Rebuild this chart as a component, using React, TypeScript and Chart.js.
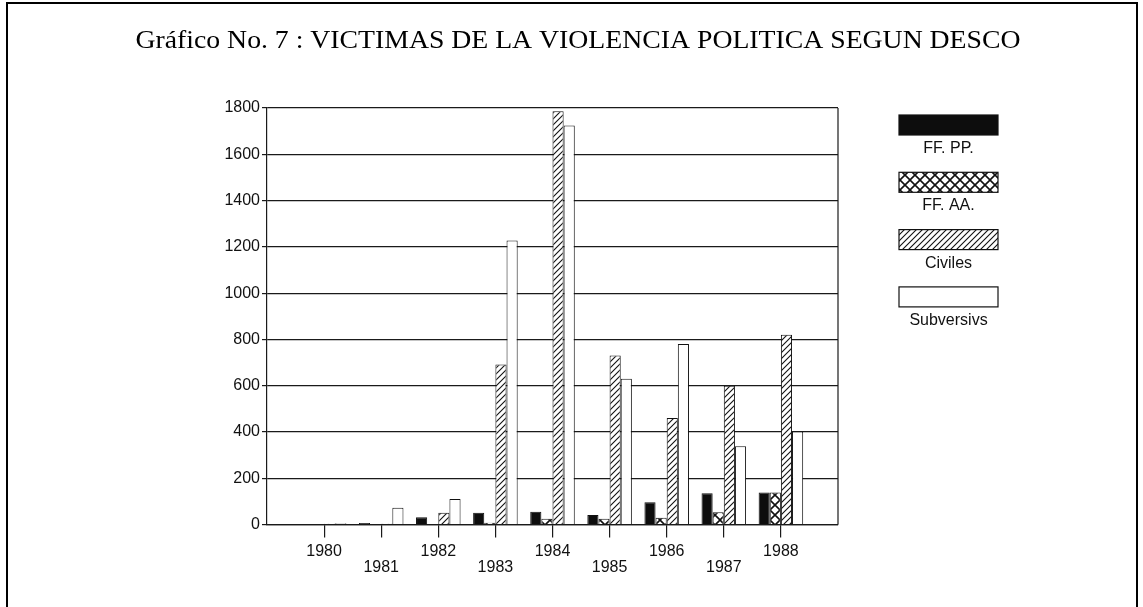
import React, { useEffect, useRef } from 'react';
import { Chart, registerables } from 'chart.js';

Chart.register(...registerables);

const titleText = 'Gráfico No. 7 : VICTIMAS DE LA VIOLENCIA POLITICA SEGUN DESCO';
const years = ['1980', '1981', '1982', '1983', '1984', '1985', '1986', '1987', '1988'];
const seriesNames = ['FF. PP.', 'FF. AA.', 'Civiles', 'Subversivs'];
const ffpp = [0, 6, 31, 51, 55, 41, 96, 135, 138];
const ffaa = [0, 0, 0, 8, 25, 25, 29, 53, 138];
const civiles = [3, 3, 51, 692, 1786, 730, 460, 600, 820];
const subversivos = [5, 72, 110, 1227, 1724, 630, 780, 338, 402];
const yMax = 1800;
const yStep = 200;

function makeHatch(): CanvasPattern | string {
  const c = document.createElement('canvas');
  c.width = 6;
  c.height = 6;
  const g = c.getContext('2d');
  if (!g) return '#fff';
  g.fillStyle = '#fff';
  g.fillRect(0, 0, 6, 6);
  g.strokeStyle = '#111';
  g.lineWidth = 1.1;
  g.beginPath();
  g.moveTo(-1, 7);
  g.lineTo(7, -1);
  g.moveTo(-1, 1);
  g.lineTo(1, -1);
  g.moveTo(5, 7);
  g.lineTo(7, 5);
  g.stroke();
  return g.createPattern(c, 'repeat') || '#fff';
}

function makeCross(): CanvasPattern | string {
  const c = document.createElement('canvas');
  c.width = 10;
  c.height = 10;
  const g = c.getContext('2d');
  if (!g) return '#fff';
  g.fillStyle = '#fff';
  g.fillRect(0, 0, 10, 10);
  g.strokeStyle = '#111';
  g.lineWidth = 1.6;
  g.beginPath();
  g.moveTo(0, 0);
  g.lineTo(10, 10);
  g.moveTo(0, 10);
  g.lineTo(10, 0);
  g.stroke();
  return g.createPattern(c, 'repeat') || '#fff';
}

const decorPlugin = {
  id: 'decor',
  afterDraw(chart: any) {
    const ctx = chart.ctx as CanvasRenderingContext2D;
    const area = chart.chartArea;
    ctx.save();
    // outer frame
    ctx.strokeStyle = '#000';
    ctx.lineWidth = 2;
    ctx.beginPath();
    ctx.moveTo(7, 607);
    ctx.lineTo(7, 3);
    ctx.lineTo(1137, 3);
    ctx.lineTo(1137, 607);
    ctx.stroke();
    // title, stretched to the width of the original serif face
    ctx.fillStyle = '#000';
    ctx.font = '25px "Liberation Serif", serif';
    ctx.textAlign = 'center';
    ctx.textBaseline = 'alphabetic';
    const w = ctx.measureText(titleText).width;
    const sx = 885 / w;
    ctx.save();
    ctx.translate(578, 48);
    ctx.scale(sx, 1);
    ctx.fillText(titleText, 0, 0);
    ctx.restore();
    // right border of plot
    ctx.strokeStyle = '#1a1a1a';
    ctx.lineWidth = 1.2;
    ctx.beginPath();
    ctx.moveTo(area.right, area.top);
    ctx.lineTo(area.right, area.bottom);
    ctx.stroke();
    // legend
    const boxX = 899;
    const boxW = 99;
    const boxH = 20;
    const top0 = 115;
    const step = 57.3;
    ctx.font = '16px "Liberation Sans", Arial, sans-serif';
    ctx.textAlign = 'center';
    ctx.textBaseline = 'middle';
    chart.data.datasets.forEach((ds: any, i: number) => {
      const y = top0 + i * step;
      ctx.fillStyle = ds.backgroundColor;
      ctx.fillRect(boxX, y, boxW, boxH);
      ctx.strokeStyle = '#111';
      ctx.lineWidth = 1.2;
      ctx.strokeRect(boxX, y, boxW, boxH);
      ctx.fillStyle = '#111';
      ctx.fillText(ds.label, boxX + boxW / 2, y + boxH + 13.5);
    });
    ctx.restore();
  },
};

export default function App() {
  const ref = useRef<HTMLCanvasElement>(null);
  useEffect(() => {
    if (!ref.current) return;
    const labels: (string | string[])[] = [''];
    years.forEach((y, i) => labels.push(i % 2 === 0 ? y : ['', y]));
    labels.push('');
    const pad = (a: number[]) => [null, ...a, null];
    const fills = ['#0d0d0d', makeCross(), makeHatch(), '#ffffff'];
    const series = [ffpp, ffaa, civiles, subversivos];
    const lastIdx = labels.length - 1;
    const chart = new Chart(ref.current, {
      type: 'bar',
      data: {
        labels,
        datasets: series.map((s, i) => ({
          label: seriesNames[i],
          data: pad(s),
          backgroundColor: fills[i] as any,
          borderColor: '#111',
          borderWidth: 1,
          categoryPercentage: 0.78,
          barPercentage: 1,
        })),
      },
      options: {
        animation: false,
        responsive: true,
        maintainAspectRatio: false,
        layout: { padding: { left: 207, right: 305, top: 108, bottom: 22.5 } },
        plugins: {
          legend: { display: false },
          tooltip: { enabled: false },
          title: { display: false },
        },
        scales: {
          x: {
            type: 'category',
            offset: false,
            grid: {
              offset: false,
              drawOnChartArea: false,
              drawTicks: true,
              tickLength: 13,
              lineWidth: 1.2,
              tickColor: (c: any) => (c.index === 0 || c.index === lastIdx ? 'rgba(0,0,0,0)' : '#1a1a1a'),
            },
            border: { display: true, color: '#1a1a1a', width: 1.2 },
            ticks: {
              color: '#111',
              font: { family: '"Liberation Sans", Arial, sans-serif', size: 16, lineHeight: 1 },
              padding: 6,
              maxRotation: 0,
              autoSkip: false,
            },
            afterFit: (s: any) => {
              s.height = 60;
            },
          },
          y: {
            min: 0,
            max: yMax,
            ticks: {
              stepSize: yStep,
              color: '#111',
              font: { family: '"Liberation Sans", Arial, sans-serif', size: 16 },
              padding: 2,
              callback: (v: any) => String(v),
            },
            grid: { color: '#1a1a1a', lineWidth: 1.2, tickLength: 5 },
            border: { display: true, color: '#1a1a1a', width: 1.2 },
            afterFit: (s: any) => {
              s.width = 60;
            },
          },
        },
      },
      plugins: [decorPlugin],
    } as any);
    return () => chart.destroy();
  }, []);
  return (
    <div style={{ position: 'absolute', left: 0, top: 0, width: 1143, height: 607, background: '#fff' }}>
      <canvas ref={ref} />
    </div>
  );
}
